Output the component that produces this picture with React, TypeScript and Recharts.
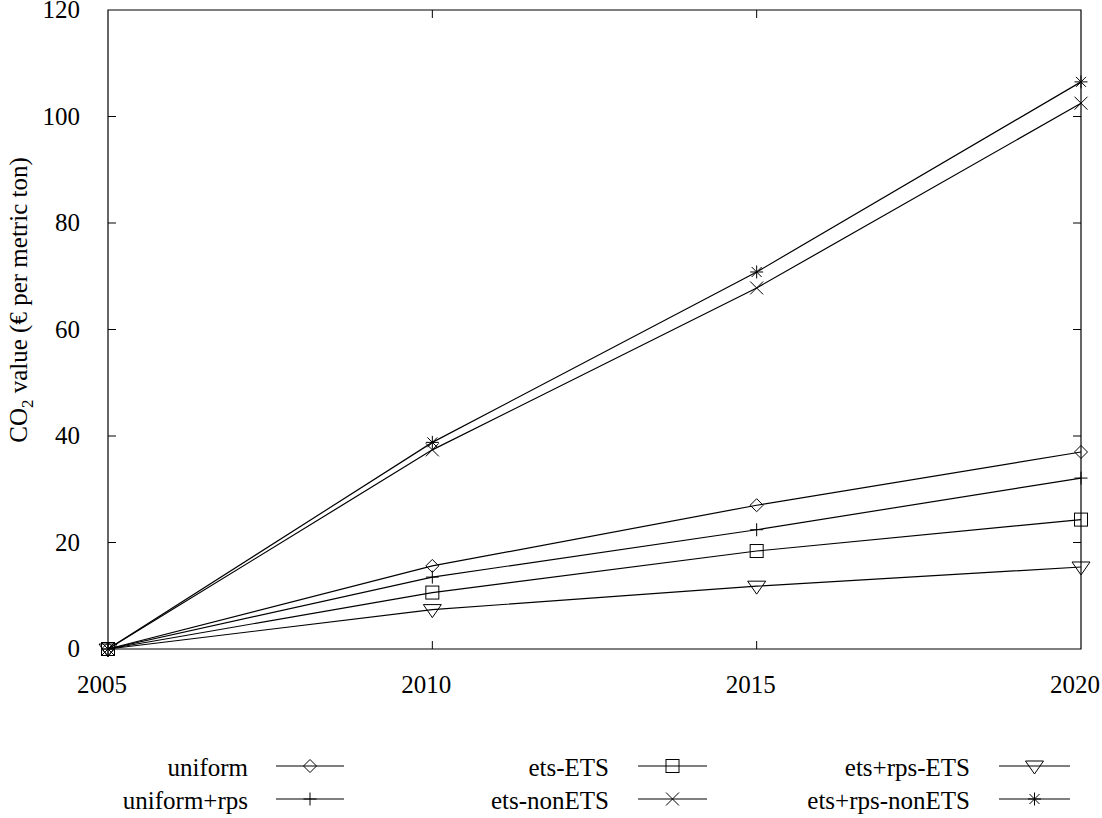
import { LineChart, Line, XAxis, YAxis, ReferenceArea, ReferenceLine } from 'recharts';

// CO2 value per scenario
const years = [2005, 2010, 2015, 2020];
const uniform = [0, 15.6, 27.0, 37.0];
const uniformRps = [0, 13.5, 22.4, 32.1];
const etsETS = [0, 10.6, 18.4, 24.3];
const etsNonETS = [0, 37.4, 67.8, 102.5];
const etsRpsETS = [0, 7.4, 11.8, 15.4];
const etsRpsNonETS = [0, 38.8, 70.8, 106.5];

const xTicks = [2005, 2010, 2015, 2020];
const yTicks = [0, 20, 40, 60, 80, 100, 120];

const FONT = '"Liberation Serif", "Times New Roman", serif';

type MarkerKind = 'diamond' | 'plus' | 'square' | 'cross' | 'triangle' | 'star';

const series: { key: string; label: string; marker: MarkerKind; values: number[] }[] = [
  { key: 'uniform', label: 'uniform', marker: 'diamond', values: uniform },
  { key: 'uniformRps', label: 'uniform+rps', marker: 'plus', values: uniformRps },
  { key: 'etsETS', label: 'ets-ETS', marker: 'square', values: etsETS },
  { key: 'etsNonETS', label: 'ets-nonETS', marker: 'cross', values: etsNonETS },
  { key: 'etsRpsETS', label: 'ets+rps-ETS', marker: 'triangle', values: etsRpsETS },
  { key: 'etsRpsNonETS', label: 'ets+rps-nonETS', marker: 'star', values: etsRpsNonETS },
];

const data = years.map((year, i) => {
  const row: Record<string, number> = { year };
  series.forEach((s) => {
    row[s.key] = s.values[i];
  });
  return row;
});

function Marker({ kind, cx, cy }: { kind: MarkerKind; cx: number; cy: number }) {
  const p = { stroke: '#000', strokeWidth: 1, fill: 'none' };
  const r = 6.5;
  switch (kind) {
    case 'diamond':
      return <path d={`M${cx},${cy - r}L${cx + r},${cy}L${cx},${cy + r}L${cx - r},${cy}Z`} {...p} />;
    case 'square':
      return <rect x={cx - r} y={cy - r} width={2 * r} height={2 * r} {...p} />;
    case 'plus':
      return <path d={`M${cx - r},${cy}H${cx + r}M${cx},${cy - r}V${cy + r}`} {...p} />;
    case 'cross':
      return <path d={`M${cx - r},${cy - r}L${cx + r},${cy + r}M${cx + r},${cy - r}L${cx - r},${cy + r}`} {...p} />;
    case 'triangle':
      return <path d={`M${cx - 9},${cy - 5}H${cx + 9}L${cx},${cy + 8}Z`} {...p} />;
    case 'star':
      return (
        <path
          d={`M${cx - r},${cy}H${cx + r}M${cx},${cy - r}V${cy + r}M${cx - 5},${cy - 5}L${cx + 5},${cy + 5}M${cx + 5},${cy - 5}L${cx - 5},${cy + 5}`}
          {...p}
        />
      );
  }
}

const XTick = (props: any) => {
  const { x, y, payload } = props;
  return (
    <text x={x - 6} y={y + 44} textAnchor="middle" fontFamily={FONT} fontSize={25} fill="#000">
      {payload.value}
    </text>
  );
};

const YTick = (props: any) => {
  const { x, y, payload } = props;
  return (
    <text x={x - 28} y={y + 8} textAnchor="end" fontFamily={FONT} fontSize={25} fill="#000">
      {payload.value}
    </text>
  );
};

// legend: 3 columns x 2 rows, text right-aligned before the line sample
const legendCols = [
  { textEnd: 248, lineStart: 276, lineEnd: 344 },
  { textEnd: 609, lineStart: 638, lineEnd: 707 },
  { textEnd: 970, lineStart: 999, lineEnd: 1070 },
];
const legendRows = [766, 799];

export default function App() {
  return (
    <div style={{ position: 'relative', width: 1102, height: 818, background: '#fff' }}>
      <style>{'body{margin:0;background:#fff}'}</style>
      <LineChart width={1102} height={818} data={data} margin={{ top: 10, right: 21, left: 0, bottom: 0 }}>
        <XAxis
          dataKey="year"
          type="number"
          domain={[2005, 2020]}
          ticks={xTicks}
          height={169}
          tickSize={0}
          tickMargin={0}
          tickLine={false}
          axisLine={false}
          tick={<XTick />}
        />
        <YAxis
          type="number"
          domain={[0, 120]}
          ticks={yTicks}
          width={108}
          tickSize={0}
          tickMargin={0}
          tickLine={false}
          axisLine={false}
          tick={<YTick />}
          label={{
            content: () => (
              <text
                x={27}
                y={300}
                transform="rotate(-90, 27, 300)"
                textAnchor="middle"
                fontFamily={FONT}
                fontSize={25}
                fill="#000"
              >
                CO
                <tspan fontSize={17} dy={6}>2</tspan>
                <tspan dy={-6}> value (€ per metric ton)</tspan>
              </text>
            ),
          }}
        />
        <ReferenceArea x1={2005} x2={2020} y1={0} y2={120} fill="none" stroke="#000" strokeWidth={1.2} />
        {/* inward ticks on all four sides */}
        {xTicks.slice(1, -1).map((t) => (
          <ReferenceLine key={`xb${t}`} segment={[{ x: t, y: 0 }, { x: t, y: 1.5 }]} stroke="#000" />
        ))}
        {xTicks.slice(1, -1).map((t) => (
          <ReferenceLine key={`xt${t}`} segment={[{ x: t, y: 120 }, { x: t, y: 118.5 }]} stroke="#000" />
        ))}
        {yTicks.slice(1, -1).map((t) => (
          <ReferenceLine key={`yl${t}`} segment={[{ x: 2005, y: t }, { x: 2005.123, y: t }]} stroke="#000" />
        ))}
        {yTicks.slice(1, -1).map((t) => (
          <ReferenceLine key={`yr${t}`} segment={[{ x: 2020, y: t }, { x: 2019.877, y: t }]} stroke="#000" />
        ))}
        {series.map((s) => (
          <Line
            key={s.key}
            dataKey={s.key}
            type="linear"
            stroke="#000"
            strokeWidth={1.2}
            isAnimationActive={false}
            dot={(props: any) => (
              <Marker key={`${s.key}-${props.index}`} kind={s.marker} cx={props.cx} cy={props.cy} />
            )}
            activeDot={false}
          />
        ))}
      </LineChart>
      <svg width={1102} height={818} style={{ position: 'absolute', left: 0, top: 0, pointerEvents: 'none' }}>
        {series.map((s, i) => {
          const col = legendCols[Math.floor(i / 2)];
          const y = legendRows[i % 2];
          const mid = (col.lineStart + col.lineEnd) / 2;
          return (
            <g key={s.key}>
              <text x={col.textEnd} y={y + 10} textAnchor="end" fontFamily={FONT} fontSize={25} fill="#000">
                {s.label}
              </text>
              <line x1={col.lineStart} x2={col.lineEnd} y1={y} y2={y} stroke="#000" strokeWidth={1.2} />
              <Marker kind={s.marker} cx={mid} cy={y} />
            </g>
          );
        })}
      </svg>
    </div>
  );
}
